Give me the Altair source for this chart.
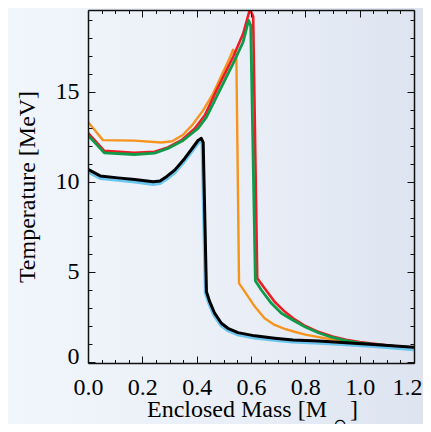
import altair as alt
import pandas as pd

# ---------------- data ----------------
mass_orange = [0.0, 0.055, 0.17, 0.27, 0.31, 0.35, 0.386, 0.423, 0.46, 0.491, 0.522, 0.534, 0.546,
               0.556, 0.577, 0.614, 0.65, 0.687, 0.724, 0.76, 0.80, 0.85, 0.90, 0.95, 1.0, 1.1, 1.2]
temp_orange = [13.33, 12.32, 12.29, 12.19, 12.26, 12.62, 13.2, 13.96, 14.9, 15.9, 16.9, 17.35, 17.05,
               4.35, 3.89, 3.06, 2.41, 2.04, 1.82, 1.66, 1.5, 1.36, 1.23, 1.12, 1.03, 0.88, 0.72]

mass_red = [0.0, 0.06, 0.17, 0.245, 0.294, 0.344, 0.393, 0.43, 0.473, 0.534, 0.571, 0.596, 0.608,
            0.623, 0.65, 0.687, 0.724, 0.755, 0.80, 0.85, 0.90, 0.95, 1.0, 1.1, 1.2]
temp_red = [12.72, 11.72, 11.61, 11.67, 11.91, 12.32, 12.97, 13.7, 15.09, 16.94, 18.24, 19.6, 19.2,
            4.63, 4.08, 3.33, 2.78, 2.41, 1.98, 1.64, 1.39, 1.21, 1.08, 0.9, 0.74]

mass_green = [0.0, 0.06, 0.17, 0.245, 0.294, 0.35, 0.405, 0.436, 0.473, 0.534, 0.571, 0.591, 0.599,
              0.616, 0.638, 0.675, 0.712, 0.755, 0.80, 0.85, 0.90, 0.95, 1.0, 1.1, 1.2]
temp_green = [12.6, 11.61, 11.52, 11.6, 11.86, 12.3, 12.97, 13.6, 14.72, 16.58, 17.78, 18.98, 18.7,
              4.5, 3.98, 3.24, 2.69, 2.3, 1.92, 1.59, 1.34, 1.17, 1.04, 0.88, 0.72]

mass_black = [0.0, 0.045, 0.11, 0.172, 0.24, 0.265, 0.29, 0.319, 0.356, 0.386, 0.405, 0.417, 0.424,
              0.436, 0.448, 0.466, 0.491, 0.515, 0.552, 0.614, 0.687, 0.755, 0.85, 0.95, 1.05, 1.2]
temp_black = [10.69, 10.33, 10.22, 10.13, 10.0, 10.05, 10.3, 10.65, 11.3, 11.91, 12.3, 12.42, 12.2,
              3.89, 3.33, 2.69, 2.13, 1.85, 1.61, 1.43, 1.3, 1.2, 1.14, 1.05, 0.95, 0.79]

mass_blue = [0.0, 0.045, 0.11, 0.172, 0.24, 0.265, 0.29, 0.319, 0.356, 0.386, 0.405, 0.415, 0.421,
             0.433, 0.446, 0.464, 0.489, 0.513, 0.55, 0.612, 0.685, 0.753, 0.85, 0.95, 1.05, 1.2]
temp_blue = [10.57, 10.2, 10.1, 10.0, 9.87, 9.92, 10.17, 10.52, 11.17, 11.78, 12.17, 12.3, 12.1,
             3.8, 3.23, 2.59, 2.03, 1.75, 1.51, 1.33, 1.2, 1.1, 1.04, 0.95, 0.85, 0.68]

x_major = [0.0, 0.2, 0.4, 0.6, 0.8, 1.0, 1.2]
x_minor = [0.05, 0.1, 0.15, 0.25, 0.3, 0.35, 0.45, 0.5, 0.55, 0.65, 0.7, 0.75, 0.85, 0.9, 0.95,
           1.05, 1.1, 1.15]
y_major = [0, 5, 10, 15]
y_minor = [1, 2, 3, 4, 6, 7, 8, 9, 11, 12, 13, 14, 16, 17, 18, 19]

x_title = "Enclosed Mass [M"
x_title_sub = "\u2299"
x_title_end = "]"
y_title = "Temperature [MeV]"

# ---------------- chart ----------------
W, H = 326, 353
PAD = {"left": 80, "top": 2, "right": 9, "bottom": 61}
FONT = "Liberation Serif"
xs = alt.Scale(domain=[0, 1.2], nice=False, zero=False)
ys = alt.Scale(domain=[-0.08, 19.56], nice=False, zero=False)


def line(m, t, color, width):
    df = pd.DataFrame({"mass": m, "temp": t, "idx": list(range(len(m)))})
    return alt.Chart(df).mark_line(color=color, strokeWidth=width, clip=True,
                                   strokeJoin="round").encode(
        x=alt.X("mass:Q", scale=xs, axis=None),
        y=alt.Y("temp:Q", scale=ys, axis=None),
        order="idx:Q")


dummy = pd.DataFrame({"mass": [0.0, 1.2], "temp": [0.0, 19.0]})


def axis_layer(xaxis, yaxis):
    return alt.Chart(dummy).mark_point(opacity=0).encode(
        x=alt.X("mass:Q", scale=xs, axis=xaxis),
        y=alt.Y("temp:Q", scale=ys, axis=yaxis))


tick_common = dict(labels=False, grid=False, title=None, ticks=True,
                   tickColor="#111111", tickWidth=1, zindex=1)
dom = dict(domain=True, domainColor="#111111", domainWidth=1.5)
nodom = dict(domain=False)

# inward ticks: axes placed on the opposite side via a negative offset
bottom_major = alt.Axis(orient="top", offset=-H, values=x_major, tickSize=7, **dom, **tick_common)
bottom_minor = alt.Axis(orient="top", offset=-H, values=x_minor, tickSize=3.5, **nodom, **tick_common)
top_major = alt.Axis(orient="bottom", offset=-H, values=x_major, tickSize=7, **dom, **tick_common)
top_minor = alt.Axis(orient="bottom", offset=-H, values=x_minor, tickSize=3.5, **nodom, **tick_common)
left_major = alt.Axis(orient="right", offset=-W, values=y_major, tickSize=7, **dom, **tick_common)
left_minor = alt.Axis(orient="right", offset=-W, values=y_minor, tickSize=4, **nodom, **tick_common)
right_major = alt.Axis(orient="left", offset=-W, values=y_major, tickSize=7, **dom, **tick_common)
right_minor = alt.Axis(orient="left", offset=-W, values=y_minor, tickSize=4, **nodom, **tick_common)

label_common = dict(ticks=False, domain=False, grid=False, labelFont=FONT, labelFontSize=24,
                    labelColor="black", labelFlush=False, labelOverlap=False, zindex=1)
x_labels = alt.Axis(orient="bottom", values=x_major[:-1], format=".1f", labelPadding=12, title=None,
                    **label_common)
x_last = alt.Axis(orient="bottom", values=x_major[-1:], format=".1f", labelPadding=12, title=None,
                  labelOffset=-7, **label_common)
y_labels = alt.Axis(orient="left", values=[5, 10, 15], format="d", labelPadding=9,
                    title=y_title, titleFont=FONT, titleFontSize=24, titleFontWeight="normal",
                    titleColor="black", titleAngle=270, titleX=-54, titleY=176.5,
                    titleBaseline="alphabetic", titleAlign="center", **label_common)
y_zero = alt.Axis(orient="left", values=[0], format="d", labelPadding=9, labelBaseline="alphabetic",
                  labelOffset=1.5, title=None, **label_common)

grad = alt.Gradient(gradient="linear",
                    stops=[alt.GradientStop(color="#f1f5fc", offset=0),
                           alt.GradientStop(color="#eaeff7", offset=0.55),
                           alt.GradientStop(color="#dde4f0", offset=1)],
                    x1=0, x2=1, y1=0, y2=0)
bg = alt.Chart(pd.DataFrame({"a": [0]})).mark_rect(fill=grad).encode(
    x=alt.value(-PAD["left"]), x2=alt.value(W + PAD["right"]),
    y=alt.value(-PAD["top"]), y2=alt.value(H + PAD["bottom"]))


def txt(s, x, y, size, align, font=FONT):
    return alt.Chart(pd.DataFrame({"t": [s]})).mark_text(
        font=font, fontSize=size, align=align, baseline="alphabetic", color="black").encode(
        text="t:N", x=alt.value(x), y=alt.value(y))


layers = [
    bg,
    line(mass_orange, temp_orange, "#f7941e", 2.4),
    line(mass_red, temp_red, "#ed1c24", 2.6),
    line(mass_green, temp_green, "#0f9b4a", 2.8),
    line(mass_blue, temp_blue, "#6cc5ec", 3.6),
    line(mass_black, temp_black, "#000000", 3.0),
    axis_layer(x_labels, y_labels),
    axis_layer(x_last, y_zero),
    axis_layer(bottom_major, left_major),
    axis_layer(bottom_minor, left_minor),
    axis_layer(top_major, right_major),
    axis_layer(top_minor, right_minor),
    txt(x_title, 239, 407, 24, "right"),
    txt(x_title_sub, 252, 420, 16, "center", font="DejaVu Sans"),
    txt(x_title_end, 262, 407, 24, "left"),
]

chart = alt.layer(*layers).resolve_axis(x="independent", y="independent").properties(
    width=W, height=H,
    padding=PAD,
    autosize=alt.AutoSizeParams(type="none"),
).configure(background="#eef3fa").configure_view(stroke=None)

chart.save("out.html", embed_options={"renderer": "svg", "actions": False})
